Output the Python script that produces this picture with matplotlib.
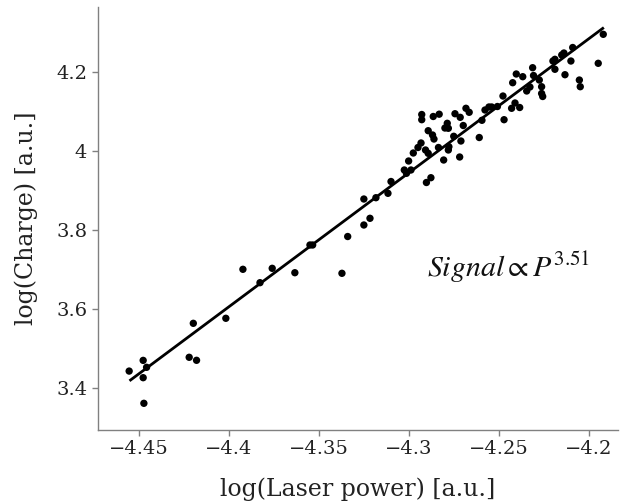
import numpy as np
import matplotlib
matplotlib.use("Agg")
import matplotlib.pyplot as plt

# Data (log laser power, log charge)
log_power = [
    -4.4556, -4.4478, -4.4459, -4.4478, -4.4474, -4.4222, -4.4181, -4.4199, -4.4018, -4.3923,
    -4.3828, -4.3760, -4.3634, -4.3550, -4.3535, -4.3372, -4.3340, -4.3250, -4.3216, -4.3250,
    -4.3183, -4.3116, -4.3099, -4.3025, -4.3013, -4.3001, -4.2988, -4.2975, -4.2949, -4.2932,
    -4.2928, -4.2928, -4.2902, -4.2877, -4.2892, -4.2864, -4.2831, -4.2868, -4.2860, -4.2907,
    -4.2892, -4.2835, -4.2806, -4.2799, -4.2786, -4.2780, -4.2780, -4.2777, -4.2743, -4.2714,
    -4.2750, -4.2717, -4.2710, -4.2697, -4.2682, -4.2664, -4.2608, -4.2593, -4.2576, -4.2554,
    -4.2539, -4.2507, -4.2476, -4.2470, -4.2428, -4.2409, -4.2383, -4.2422, -4.2402, -4.2366,
    -4.2344, -4.2326, -4.2311, -4.2306, -4.2274, -4.2261, -4.2261, -4.2255, -4.2198, -4.2187,
    -4.2187, -4.2149, -4.2137, -4.2131, -4.2098, -4.2088, -4.2051, -4.2046, -4.1946, -4.1918,
]
log_charge = [
    3.444, 3.471, 3.4535, 3.4273, 3.3626, 3.4788, 3.4712, 3.5646, 3.5773, 3.701,
    3.6672, 3.7035, 3.6924, 3.7624, 3.7624, 3.6909, 3.7838, 3.8129, 3.8298, 3.8785,
    3.8818, 3.8929, 3.9227, 3.9518, 3.9434, 3.9745, 3.9518, 3.9947, 4.0086, 4.020,
    4.0919, 4.0788, 3.9202, 3.9323, 4.051, 4.0869, 4.0927, 4.0402, 4.030, 4.0023,
    3.9939, 4.0086, 3.977, 4.0578, 4.0697, 4.0571, 4.0023, 4.0106, 4.0939, 4.0848,
    4.0369, 3.9846, 4.025, 4.0641, 4.1076, 4.0975, 4.0338, 4.0773, 4.1033, 4.1109,
    4.1109, 4.1121, 4.1386, 4.0788, 4.1076, 4.121, 4.1096, 4.1722, 4.1942, 4.1874,
    4.1513, 4.1614, 4.2101, 4.1904, 4.179, 4.1621, 4.145, 4.1374, 4.227, 4.2061,
    4.2313, 4.2422, 4.2472, 4.1924, 4.227, 4.2611, 4.179, 4.1621, 4.2212, 4.2944,
]

# Linear fit shown in the chart
fit_slope = 3.38
fit_intercept = 18.4787
fit_x_range = [-4.4548, -4.1921]

x_ticks = [-4.45, -4.4, -4.35, -4.3, -4.25, -4.2]
x_tick_labels = ["\u22124.45", "\u22124.4", "\u22124.35", "\u22124.3", "\u22124.25", "\u22124.2"]
y_ticks = [3.4, 3.6, 3.8, 4.0, 4.2]
y_tick_labels = ["3.4", "3.6", "3.8", "4", "4.2"]

plt.rcParams['font.family'] = ['DejaVu Serif']
plt.rcParams['mathtext.fontset'] = 'stix'

fig = plt.figure(figsize=(6.22, 5.04), dpi=100)
ax = fig.add_axes([97.7 / 622, 74 / 504, 520.3 / 622, 423 / 504])

ax.scatter(log_power, log_charge, s=28, color='black', edgecolors='none', zorder=3)
fx = np.array(fit_x_range)
ax.plot(fx, fit_slope * fx + fit_intercept, color='black', lw=2.0, zorder=2)

ax.set_xlim(-4.4731, -4.1836)
ax.set_ylim(3.2952, 4.3634)
ax.set_xticks(x_ticks)
ax.set_xticklabels(x_tick_labels)
ax.set_yticks(y_ticks)
ax.set_yticklabels(y_tick_labels)

for side in ['top', 'right']:
    ax.spines[side].set_visible(False)
for side in ['left', 'bottom']:
    ax.spines[side].set_color('#808080')
    ax.spines[side].set_linewidth(1.0)
ax.tick_params(axis='both', colors='#808080', labelcolor='#222222', labelsize=14,
               length=4, width=1.0, direction='out')

ax.set_xlabel('log(Laser power) [a.u.]', fontsize=17, color='#222222', labelpad=14)
ax.set_ylabel('log(Charge) [a.u.]', fontsize=17, color='#222222', labelpad=13)

ax.text(-4.29, 3.6823, r'$Signal \propto P^{3.51}$', fontsize=21.5, color='#111111',
        ha='left', va='baseline')

fig.savefig('out.png', dpi=100)
